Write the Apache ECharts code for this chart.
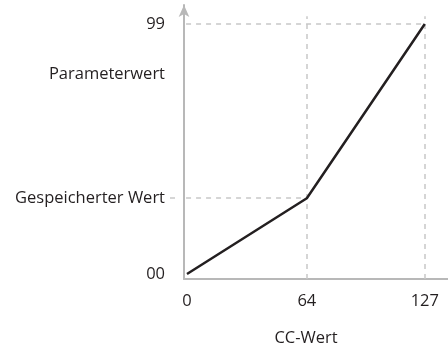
<!DOCTYPE html>
<html>
<head>
<meta charset="utf-8">
<style>
  html, body { margin: 0; padding: 0; background: #fff; }
  #chart { width: 448px; height: 346px; }
</style>
<script src="https://cdn.jsdelivr.net/npm/echarts@6/dist/echarts.min.js"></script>
</head>
<body>
<div id="chart"></div>
<script>
// CC value (x) mapped to parameter value (y)
const ccValues = [0, 64, 127];
const paramValues = [0, 30, 99];

// Tick positions and their texts
const xTickValues = [0, 64, 127];
const xTickLabels = ['0', '64', '127'];
const yTickValues = [0, 30, 79, 99];
const yTickLabels = ['00', 'Gespeicherter Wert', 'Parameterwert', '99'];

const xName = 'CC-Wert';

const FONT = '"Open Sans", "Noto Sans", sans-serif';
const FONT_SIZE = 16.5;
const TEXT = '#231f20';
const AXIS = '#b8b8b8';
const GUIDE = '#c8c8c8';

const storedValue = paramValues[1];
const maxValue = paramValues[2];
const guideEnd = 102;

function labelFor(values, labels) {
  return function (v) {
    const i = values.indexOf(v);
    return i >= 0 ? labels[i] : '';
  };
}

const guideStyle = { color: GUIDE, type: [5, 5], width: 1.5 };

const chart = echarts.init(document.getElementById('chart'), null, { renderer: 'canvas' });
chart.setOption({
  animation: false,
  grid: { left: 184, right: 0, top: 5, bottom: 67, containLabel: false, outerBoundsMode: 'none' },
  xAxis: {
    type: 'value',
    min: -1.6,
    max: 139.4,
    name: xName,
    nameLocation: 'middle',
    nameGap: 51,
    nameTextStyle: { fontFamily: FONT, fontSize: FONT_SIZE, color: TEXT, padding: [0, 20, 0, 0] },
    axisLine: { show: true, onZero: false, lineStyle: { color: AXIS, width: 2 } },
    axisTick: { show: false },
    splitLine: { show: false },
    axisLabel: {
      customValues: xTickValues,
      formatter: labelFor(xTickValues, xTickLabels),
      fontFamily: FONT, fontSize: FONT_SIZE, color: TEXT, margin: 14
    }
  },
  yAxis: {
    type: 'value',
    min: -2,
    max: 106.5,
    axisLine: {
      show: true, onZero: false,
      symbol: ['none', 'arrow'], symbolSize: [8, 12], symbolOffset: [0, 0],
      lineStyle: { color: AXIS, width: 2 }
    },
    // the stored-value guide continues a little to the left of the axis
    axisTick: {
      show: true,
      customValues: [storedValue],
      length: 14,
      lineStyle: { color: GUIDE, width: 1.5, type: [5, 9], dashOffset: 5 }
    },
    splitLine: { show: false },
    axisLabel: {
      customValues: yTickValues,
      formatter: labelFor(yTickValues, yTickLabels),
      fontFamily: FONT, fontSize: FONT_SIZE, color: TEXT, margin: 19
    }
  },
  series: [{
    type: 'line',
    data: ccValues.map((x, i) => [x, paramValues[i]]),
    symbol: 'none',
    clip: false,
    lineStyle: { color: '#231f20', width: 2.5 },
    z: 5,
    markLine: {
      silent: true,
      symbol: 'none',
      label: { show: false },
      lineStyle: guideStyle,
      data: [
        [{ coord: [-0.5, maxValue] }, { coord: [ccValues[2], maxValue] }],
        [{ coord: [-0.5, storedValue] }, { coord: [ccValues[1], storedValue] }],
        [{ coord: [ccValues[1], -2] }, { coord: [ccValues[1], guideEnd] }],
        [{ coord: [ccValues[2], -2] }, { coord: [ccValues[2], guideEnd] }]
      ]
    }
  }]
});
</script>
</body>
</html>
